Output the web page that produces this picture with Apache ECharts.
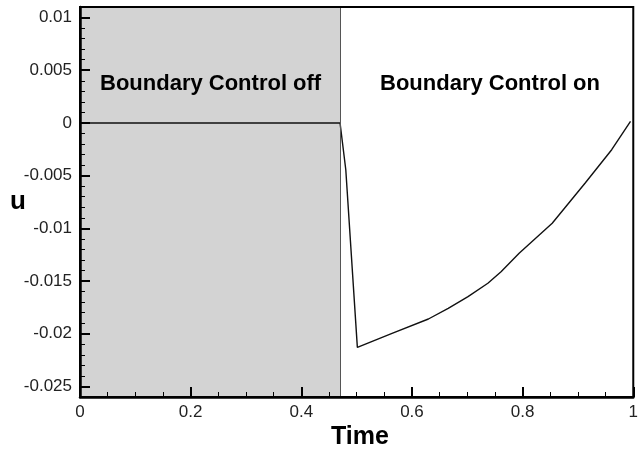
<!DOCTYPE html>
<html>
<head>
<meta charset="utf-8">
<script src="https://cdn.jsdelivr.net/npm/echarts@6/dist/echarts.min.js"></script>
<style>
  html, body { margin: 0; padding: 0; background: #fff; }
  #chart { width: 641px; height: 452px; }
</style>
</head>
<body>
<div id="chart"></div>
<script>
// Time samples and the response u(t)
const timeValues = [0, 0.47, 0.4804, 0.5013, 0.564, 0.6297, 0.6655, 0.7013, 0.7372, 0.761, 0.7937, 0.8535, 0.9131, 0.961, 0.995];
const uValues = [0, 0, -0.00444, -0.02129, -0.01996, -0.0186, -0.01759, -0.01648, -0.01521, -0.01411, -0.01236, -0.00951, -0.0057, -0.00254, 0.00015];

// Moment the boundary control is switched on
const controlSwitchTime = 0.47;

// Axis ranges and tick labels
const xRange = [0, 1];
const yRange = [-0.026, 0.011];
const yMajorTicks = [-0.025, -0.02, -0.015, -0.01, -0.005, 0, 0.005, 0.01];

const regionLabels = ['Boundary Control off', 'Boundary Control on'];

const chart = echarts.init(document.getElementById('chart'), null, { renderer: 'canvas' });
const labelFont = 'Liberation Sans, Arial, Helvetica, sans-serif';

chart.setOption({
  animation: false,
  backgroundColor: '#ffffff',
  grid: { left: 80, right: 3, top: 7, bottom: 55, show: true, borderColor: '#000', borderWidth: 2, backgroundColor: 'transparent', z: 10 },
  xAxis: {
    type: 'value', min: xRange[0], max: xRange[1], interval: 0.2, z: 10,
    axisLine: { show: true, onZero: false, lineStyle: { color: '#000', width: 2.5 } },
    axisTick: { show: true, inside: true, length: 10, lineStyle: { color: '#000', width: 2 } },
    minorTick: { show: true, splitNumber: 4, length: 5, lineStyle: { color: '#000', width: 1 } },
    splitLine: { show: false },
    axisLabel: { color: '#222', fontSize: 17, fontFamily: labelFont, margin: 7, showMaxLabel: true }
  },
  yAxis: [{
    type: 'value', min: yRange[0], max: yRange[1], z: 10,
    axisLine: { show: true, onZero: false, lineStyle: { color: '#000', width: 2.5 } },
    axisTick: { show: true, inside: true, length: 10, customValues: yMajorTicks, lineStyle: { color: '#000', width: 2 } },
    splitLine: { show: false },
    axisLabel: { color: '#222', fontSize: 17, fontFamily: labelFont, margin: 8, customValues: yMajorTicks, formatter: v => String(v) }
  }, {
    // minor ticks every 0.001 on the left edge
    type: 'value', position: 'left', min: yRange[0], max: yRange[1], interval: 0.001, z: 10,
    axisLine: { show: false },
    axisTick: { show: true, inside: true, length: 5, lineStyle: { color: '#000', width: 1 } },
    splitLine: { show: false },
    axisLabel: { show: false }
  }],
  series: [{
    // shaded interval before the control starts
    type: 'line', data: [], z: 0, silent: true,
    markArea: {
      silent: true,
      itemStyle: { color: '#d3d3d3' },
      data: [[{ xAxis: xRange[0] }, { xAxis: controlSwitchTime }]]
    },
    markLine: {
      silent: true, symbol: 'none', label: { show: false },
      lineStyle: { color: '#555', width: 1, type: 'solid' },
      data: [{ xAxis: controlSwitchTime }]
    }
  }, {
    type: 'line', z: 3,
    data: timeValues.map((t, i) => [t, uValues[i]]),
    showSymbol: false, smooth: false,
    lineStyle: { color: '#111', width: 1.4 }
  }],
  graphic: [
    { type: 'text', z: 100, left: 100, top: 73, style: { text: regionLabels[0], font: 'bold 22px ' + labelFont, fill: '#000' } },
    { type: 'text', z: 100, left: 380, top: 73, style: { text: regionLabels[1], font: 'bold 22px ' + labelFont, fill: '#000' } },
    { type: 'text', z: 100, left: 10, top: 189, style: { text: 'u', font: 'bold 26px ' + labelFont, fill: '#000' } },
    { type: 'text', z: 100, left: 331, top: 425, style: { text: 'Time', font: 'bold 25px ' + labelFont, fill: '#000' } }
  ]
});
</script>
</body>
</html>
